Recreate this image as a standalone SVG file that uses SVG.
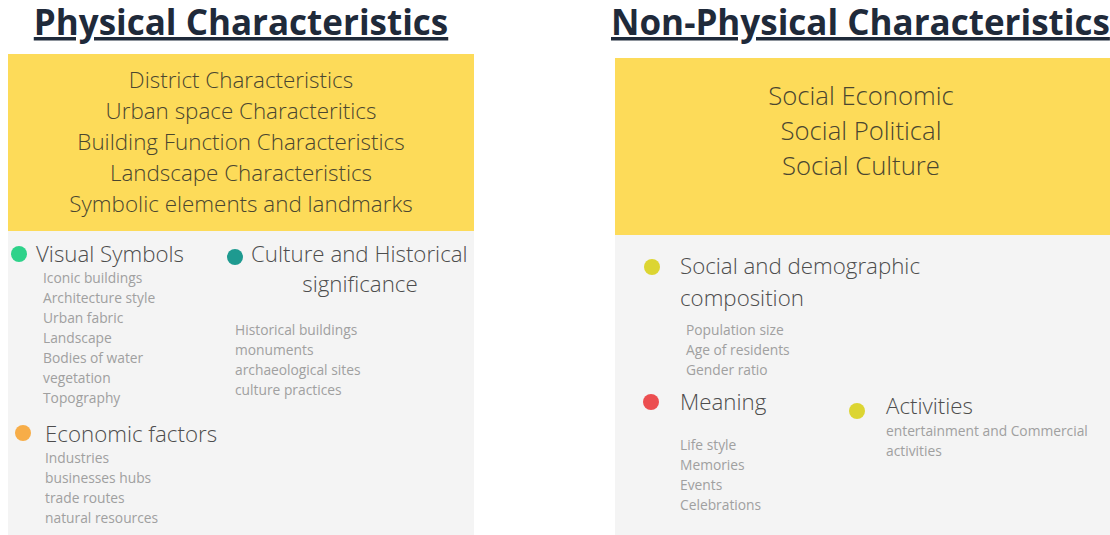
<svg xmlns="http://www.w3.org/2000/svg" width="1110" height="535" viewBox="0 0 1110 535">
<style>
.title{font-family:"Open Sans","Liberation Sans",sans-serif;font-weight:700;font-size:35px;fill:#1f2a3a;text-decoration:underline;}
.yel{font-family:"Open Sans","Liberation Sans",sans-serif;font-weight:300;fill:#4a4630;text-anchor:middle;}
.head{font-family:"Open Sans","Liberation Sans",sans-serif;font-weight:300;font-size:22.3px;fill:#4d4d4d;}
.sub{font-family:"Open Sans","Liberation Sans",sans-serif;font-weight:400;font-size:13.8px;fill:#a0a0a0;}
.panel{fill:#f4f4f4;}
.band{fill:#fddb59;}
</style>
<rect width="1110" height="535" fill="#ffffff"/>
<g id="physical">
<text class="title" x="241" y="35" text-anchor="middle">Physical Characteristics</text>
<rect class="panel" x="8" y="54" width="466" height="481"/>
<rect class="band" x="8" y="54" width="466" height="177"/>
<g class="yel" font-size="22.4">
<text x="241" y="88">District Characteristics</text>
<text x="241" y="119">Urban space Characteritics</text>
<text x="241" y="150">Building Function Characteristics</text>
<text x="241" y="181">Landscape Characteristics</text>
<text x="241" y="212">Symbolic elements and landmarks</text>
</g>
</g>
<g id="visual-symbols">
<circle cx="19" cy="254" r="8" fill="#2ed28a"/>
<text class="head" x="36" y="262">Visual Symbols</text>
<text class="sub" x="43" y="283">Iconic buildings</text>
<text class="sub" x="43" y="303">Architecture style</text>
<text class="sub" x="43" y="323">Urban fabric</text>
<text class="sub" x="43" y="343">Landscape</text>
<text class="sub" x="43" y="363">Bodies of water</text>
<text class="sub" x="43" y="383">vegetation</text>
<text class="sub" x="43" y="403">Topography</text>
</g>
<g id="culture">
<circle cx="235" cy="257" r="8" fill="#1e9a90"/>
<text class="head" x="251" y="262">Culture and Historical</text>
<text class="head" x="360" y="292" text-anchor="middle">significance</text>
<text class="sub" x="235" y="335">Historical buildings</text>
<text class="sub" x="235" y="355">monuments</text>
<text class="sub" x="235" y="375">archaeological sites</text>
<text class="sub" x="235" y="395">culture practices</text>
</g>
<g id="economic">
<circle cx="23" cy="433" r="8" fill="#f7ad48"/>
<text class="head" x="45" y="442">Economic factors</text>
<text class="sub" x="45" y="463">Industries</text>
<text class="sub" x="45" y="483">businesses hubs</text>
<text class="sub" x="45" y="503">trade routes</text>
<text class="sub" x="45" y="523">natural resources</text>
</g>
<g id="non-physical">
<text class="title" x="611" y="35">Non-Physical Characteristics</text>
<rect class="panel" x="615" y="58" width="495" height="477"/>
<rect class="band" x="615" y="58" width="495" height="177"/>
<g class="yel" font-size="25.7">
<text x="861" y="105">Social Economic</text>
<text x="861" y="140">Social Political</text>
<text x="861" y="175">Social Culture</text>
</g>
</g>
<g id="social-demographic">
<circle cx="652" cy="267" r="8" fill="#dcd532"/>
<text class="head" x="680" y="274">Social and demographic</text>
<text class="head" x="680" y="306">composition</text>
<text class="sub" x="686" y="335">Population size</text>
<text class="sub" x="686" y="355">Age of residents</text>
<text class="sub" x="686" y="375">Gender ratio</text>
</g>
<g id="meaning">
<circle cx="651" cy="402" r="8" fill="#ec4e50"/>
<text class="head" x="680" y="410">Meaning</text>
<text class="sub" x="680" y="450">Life style</text>
<text class="sub" x="680" y="470">Memories</text>
<text class="sub" x="680" y="490">Events</text>
<text class="sub" x="680" y="510">Celebrations</text>
</g>
<g id="activities">
<circle cx="857" cy="411" r="8" fill="#dcd532"/>
<text class="head" x="886" y="414">Activities</text>
<text class="sub" x="886" y="436">entertainment and Commercial</text>
<text class="sub" x="886" y="456">activities</text>
</g>
<g id="connectors"></g>
</svg>
